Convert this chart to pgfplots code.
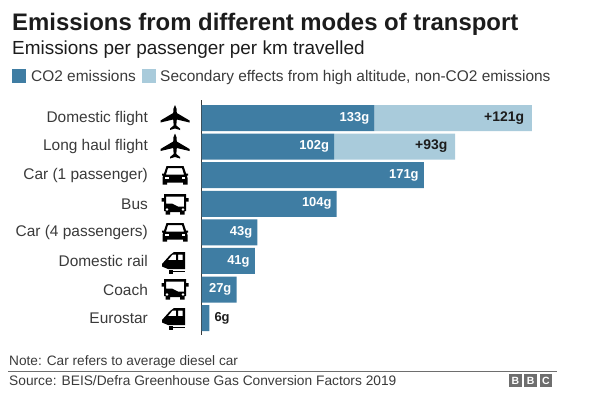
\documentclass[border=0pt]{standalone}
\usepackage{fontspec}
\setmainfont{Liberation Sans}
\usepackage{pgfplots}
\pgfplotsset{compat=1.18}
\definecolor{co2}{HTML}{3F7DA3}
\definecolor{sec}{HTML}{A9CBDB}
\definecolor{txt}{HTML}{3A3A3A}
\definecolor{ink}{HTML}{1C1C1C}
\definecolor{bbc}{HTML}{6E6E6E}
% icons, drawn round their centre, in reference pixels
\newcommand{\plane}[2]{\begin{scope}[shift={(#1,#2)}]
  \fill[black] (0,13) .. controls (1.6,11) and (1.8,8) .. (1.8,5) -- (14.5,-2.5) -- (14.5,-4.5) -- (1.8,-1.5) -- (1.3,-7.5) -- (5,-10.5) -- (5,-12) -- (0,-10.5) -- (-5,-12) -- (-5,-10.5) -- (-1.3,-7.5) -- (-1.8,-1.5) -- (-14.5,-4.5) -- (-14.5,-2.5) -- (-1.8,5) .. controls (-1.8,8) and (-1.6,11) .. (0,13) -- cycle;
\end{scope}}
\newcommand{\car}[2]{\begin{scope}[shift={(#1,#2)}]
  \fill[black,even odd rule] (-8.5,9) -- (8.5,9) -- (11,1.5) -- (13,1.5) -- (13,-.5) -- (11.8,-.5) -- (12.5,-3) -- (12.5,-9.5) -- (8,-9.5) -- (8,-7.5) -- (-8,-7.5) -- (-8,-9.5) -- (-12.5,-9.5) -- (-12.5,-3) -- (-11.8,-.5) -- (-13,-.5) -- (-13,1.5) -- (-11,1.5) -- cycle
   (-7,7) -- (7,7) -- (9,0.5) -- (-9,0.5) -- cycle;
  \fill[white] (-10,-4) rectangle (-6.5,-2);
  \fill[white] (6.5,-4) rectangle (10,-2);
\end{scope}}
\newcommand{\bus}[2]{\begin{scope}[shift={(#1,#2)}]
  \fill[black,even odd rule] (-11,10) -- (11,10) -- (11,-7) -- (9.5,-7) -- (9.5,-10.5) -- (5,-10.5) -- (5,-8) -- (-5,-8) -- (-5,-10.5) -- (-9.5,-10.5) -- (-9.5,-7) -- (-11,-7) -- cycle
   (-9,7.5) -- (9,7.5) -- (9,-2.5) -- (3,-2.5) -- (-3,.5) -- (-9,.5) -- cycle;
  \fill[black] (-13.5,6) rectangle (-11,2.5) (11,6) rectangle (13.5,2.5);
  \fill[white] (-8,-5.5) circle (1.3) (8,-5.5) circle (1.3);
\end{scope}}
\newcommand{\train}[2]{\begin{scope}[shift={(#1,#2)}]
  \fill[black,even odd rule] (11,10) -- (0,10) -- (-4,7) -- (-12,-2) -- (-12,-4.5) -- (-6,-7) -- (11,-7) -- cycle
   (-1.5,7.5) -- (2,7.5) -- (2,2) -- (-6,2) -- cycle
   (4,7.5) -- (8.5,7.5) -- (8.5,2) -- (4,2) -- cycle;
  \fill[black] (-3,-8.5) -- (11,-8.5) -- (11,-10) -- (-3,-10) -- cycle;
  \fill[black] (-5,-8) rectangle (-1.5,-11.5);
\end{scope}}
\begin{document}
\begin{tikzpicture}[x=1bp,y=1bp]
\path (0,0) rectangle (600,405);
\node[anchor=base west,inner sep=0,font=\fontsize{24}{24}\selectfont\bfseries,text=ink] at (12,375) {Emissions from different modes of transport};
\node[anchor=base west,inner sep=0,font=\fontsize{19}{19}\selectfont,text=ink] at (12,351) {Emissions per passenger per km travelled};

% legend
\fill[co2] (12,322) rectangle (26,336);
\node[anchor=base west,inner sep=0,font=\fontsize{15.5}{15.5}\selectfont,text=txt] at (31,323.5) {CO2 emissions};
\fill[sec] (142,322) rectangle (156,336);
\node[anchor=base west,inner sep=0,font=\fontsize{15.5}{15.5}\selectfont,text=txt] at (160,323.5) {Secondary effects from high altitude, non-CO2 emissions};

\begin{axis}[
	at={(201.5bp,70bp)}, anchor=south west,
	scale only axis, width=340bp, height=235bp,
	xbar stacked, bar width=26bp,
	xmin=0, xmax=261.5,
	ymin=-0.63, ymax=7.59,
	y dir=reverse,
	axis x line=none,
	axis y line=left,
	axis line style={draw=txt,line width=1.4bp,-},
	ytick={0,...,7},
	yticklabels={Domestic flight,Long haul flight,Car (1 passenger),Bus,Car (4 passengers),Domestic rail,Coach,Eurostar},
	tick style={draw=none},
	y tick label style={font=\fontsize{15.5}{15.5}\selectfont,text=txt,xshift=-48bp},
]
\addplot[fill=co2,draw=none] coordinates {(133,0)(102,1)(171,2)(104,3)(43,4)(41,5)(27,6)(6,7)};
\addplot[fill=sec,draw=none] coordinates {(121,0)(93,1)(0,2)(0,3)(0,4)(0,5)(0,6)(0,7)};
\end{axis}

% value labels, on a second axis of the same size so that they are not stacked
\begin{axis}[
	at={(201.5bp,70bp)}, anchor=south west,
	scale only axis, width=340bp, height=235bp,
	xmin=0, xmax=261.5, ymin=-0.63, ymax=7.59,
	y dir=reverse, hide axis,
]
\addplot[only marks,mark=none,point meta=explicit symbolic,nodes near coords,
	every node near coord/.style={anchor=east,inner sep=0,xshift=-5bp,yshift=0bp,text=white,font=\fontsize{13}{13}\selectfont\bfseries}]
	table[meta=lab] {
x y lab
133 0 133g
102 1 102g
171 2 171g
104 3 104g
43 4 43g
41 5 41g
27 6 27g
};
\addplot[only marks,mark=none,point meta=explicit symbolic,nodes near coords,
	every node near coord/.style={anchor=east,inner sep=0,xshift=-7.5bp,text=ink,font=\fontsize{14}{14}\selectfont\bfseries}]
	table[meta=lab] {
x y lab
254 0 +121g
195 1 +93g
};
\addplot[only marks,mark=none,point meta=explicit symbolic,nodes near coords,
	every node near coord/.style={anchor=west,inner sep=0,xshift=5bp,text=ink,font=\fontsize{13}{13}\selectfont\bfseries}]
	table[meta=lab] {
x y lab
6 7 6g
};
\end{axis}

\plane{175}{287}
\plane{175}{258.5}
\car{175}{230}
\bus{175}{201}
\car{175}{173}
\train{174}{143}
\bus{175}{116}
\train{174}{87}

\node[anchor=base west,inner sep=0,font=\fontsize{13.7}{13.7}\selectfont,text=txt] at (9,40) {Note: Car refers to average diesel car};
\draw[draw=bbc,line width=.9bp] (8,34) -- (557,34);
\node[anchor=base west,inner sep=0,font=\fontsize{13.8}{13.8}\selectfont,text=txt] at (9,19.5) {Source: BEIS/Defra Greenhouse Gas Conversion Factors 2019};
\foreach \l [count=\i from 0] in {B,B,C} {
	\fill[bbc] (509+\i*15.3,18) rectangle ++(12.6,12.6);
	\node[text=white,inner sep=0,font=\fontsize{10.5}{10.5}\selectfont\bfseries] at (515.3+\i*15.3,24.3) {\l};
}
\end{tikzpicture}
\end{document}
